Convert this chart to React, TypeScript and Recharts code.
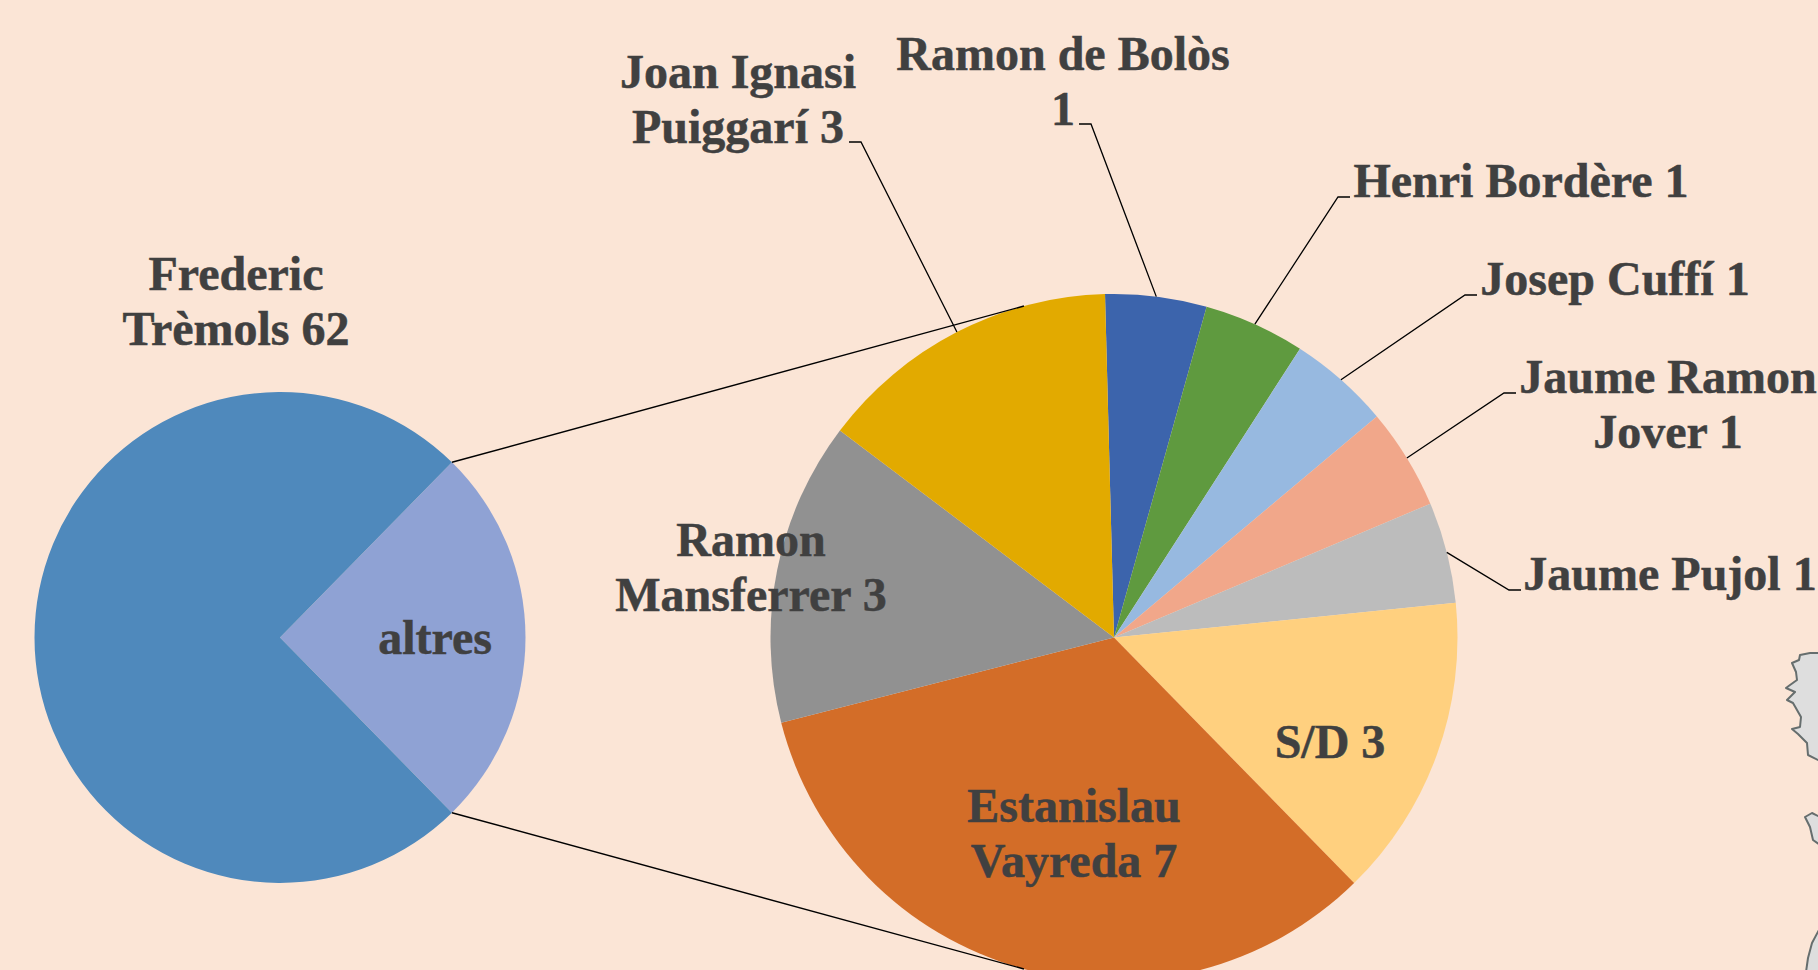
import { PieChart, Pie, Cell } from 'recharts';

const leftNames = ['altres', 'Frederic Trèmols'];
const leftValues = [21, 62];
const leftColors = ['#8FA2D4', '#4F89BC'];
const leftLabels = [['altres'], ['Frederic', 'Trèmols 62']];
const leftLabelPos = [
  { x: 435, y: 654 },
  { x: 236, y: 290 },
];

const rightNames = [
  'Ramon de Bolòs',
  'Henri Bordère',
  'Josep Cuffí',
  'Jaume Ramon Jover',
  'Jaume Pujol',
  'S/D',
  'Estanislau Vayreda',
  'Ramon Mansferrer',
  'Joan Ignasi Puiggarí',
];
const rightValues = [1, 1, 1, 1, 1, 3, 7, 3, 3];
const rightColors = [
  '#3C64AC',
  '#5F9A3F',
  '#97B9E0',
  '#F1A78A',
  '#BCBCBC',
  '#FFD07F',
  '#D36D28',
  '#919191',
  '#E2AA00',
];
const rightLabels = [
  ['Ramon de Bolòs', '1'],
  ['Henri Bordère 1'],
  ['Josep Cuffí 1'],
  ['Jaume Ramon', 'Jover 1'],
  ['Jaume Pujol 1'],
  ['S/D 3'],
  ['Estanislau', 'Vayreda 7'],
  ['Ramon', 'Mansferrer 3'],
  ['Joan Ignasi', 'Puiggarí 3'],
];
const rightLabelPos = [
  { x: 1063, y: 70 },
  { x: 1521, y: 197 },
  { x: 1615, y: 295 },
  { x: 1668, y: 393 },
  { x: 1670, y: 590 },
  { x: 1330, y: 758 },
  { x: 1074, y: 822 },
  { x: 751, y: 556 },
  { x: 738, y: 88 },
];
// leader lines: [end of the horizontal stub, y, elbow]. null = label sits inside the slice
const rightLeaders = [
  [1079, 124, 1091],
  [1350, 197, 1338],
  [1477, 295, 1465],
  [1516, 393, 1504],
  [1521, 590, 1509],
  null,
  null,
  null,
  [849, 142, 861],
];

const leftData = leftNames.map((name, i) => ({ name, value: leftValues[i] }));
const rightData = rightNames.map((name, i) => ({ name, value: rightValues[i] }));

const WIDTH = 1818;
const HEIGHT = 970;
const LEFT_CX = 280;
const LEFT_CY = 637.5;
const LEFT_R = 245.5;
const RIGHT_CX = 1114;
const RIGHT_CY = 637.5;
const RIGHT_R = 343.5;
const RAD = Math.PI / 180;
const LINE_HEIGHT = 54.5;

// altres is centred on the east side of the left pie
const leftStart = (leftValues[0] / (leftValues[0] + leftValues[1])) * 180;
const rightStart = 91.5;
// where the series lines touch the right pie
const seriesLineAngles = [105.2, 254.8];

const polar = (cx: number, cy: number, r: number, angle: number) => ({
  x: cx + r * Math.cos(angle * RAD),
  y: cy - r * Math.sin(angle * RAD),
});

function LabelText({ lines, x, y }: { lines: string[]; x: number; y: number }) {
  return (
    <text
      x={x}
      y={y}
      textAnchor="middle"
      fill="#404040"
      stroke="#404040"
      strokeWidth={0.5}
      fontFamily="'Liberation Serif', serif"
      fontWeight="bold"
      fontSize={48}
    >
      {lines.map((line, i) => (
        <tspan key={line} x={x} y={y + i * LINE_HEIGHT}>
          {line}
        </tspan>
      ))}
    </text>
  );
}

function renderLeftLabel(props: any) {
  const { index } = props;
  const pos = leftLabelPos[index];
  return (
    <g key={index}>
      {index === 0 &&
        [leftStart, -leftStart].map((angle, i) => {
          const from = polar(LEFT_CX, LEFT_CY, LEFT_R, angle);
          const to = polar(RIGHT_CX, RIGHT_CY, RIGHT_R, seriesLineAngles[i]);
          return (
            <line key={angle} x1={from.x} y1={from.y} x2={to.x} y2={to.y} stroke="#000" strokeWidth={1.4} />
          );
        })}
      <LabelText lines={leftLabels[index]} x={pos.x} y={pos.y} />
    </g>
  );
}

function renderRightLabel(props: any) {
  const { index, midAngle } = props;
  const pos = rightLabelPos[index];
  const leader = rightLeaders[index];
  const edge = polar(RIGHT_CX, RIGHT_CY, RIGHT_R, midAngle);
  return (
    <g key={index}>
      {leader && (
        <polyline
          points={`${edge.x},${edge.y} ${leader[2]},${leader[1]} ${leader[0]},${leader[1]}`}
          fill="none"
          stroke="#000"
          strokeWidth={1.3}
        />
      )}
      <LabelText lines={rightLabels[index]} x={pos.x} y={pos.y} />
    </g>
  );
}

export default function App() {
  return (
    <div
      style={{
        position: 'fixed',
        left: 0,
        top: 0,
        width: WIDTH,
        height: HEIGHT,
        overflow: 'hidden',
        background: '#FBE5D6',
      }}
    >
      {/* bit of a map cut off by the page edge */}
      <svg width={WIDTH} height={HEIGHT} style={{ position: 'absolute', left: 0, top: 0 }}>
        <g fill="#DEDEDE" stroke="#666E6E" strokeWidth={2} strokeLinejoin="round">
          <path d="M1820 653L1810 653L1800 655L1799 660L1792 663L1796 672L1797 680L1790 685L1786 688L1795 692L1787 700L1793 703L1801 717L1800 727L1792 729L1798 734L1807 743L1808 755L1820 761Z" />
          <path d="M1820 817L1812 813L1805 817L1810 827L1813 840L1820 845Z" />
          <path d="M1820 928L1812 943L1808 958L1806 972L1820 972Z" />
        </g>
      </svg>
      <div style={{ position: 'absolute', left: 0, top: 0 }}>
        <PieChart width={WIDTH} height={HEIGHT} margin={{ top: 0, right: 0, bottom: 0, left: 0 }}>
          <Pie
            data={leftData}
            dataKey="value"
            nameKey="name"
            cx={LEFT_CX}
            cy={LEFT_CY}
            outerRadius={LEFT_R}
            startAngle={leftStart}
            endAngle={leftStart - 360}
            stroke="none"
            label={renderLeftLabel}
            labelLine={false}
            isAnimationActive={false}
          >
            {leftData.map((d, i) => (
              <Cell key={d.name} fill={leftColors[i]} />
            ))}
          </Pie>
          <Pie
            data={rightData}
            dataKey="value"
            nameKey="name"
            cx={RIGHT_CX}
            cy={RIGHT_CY}
            outerRadius={RIGHT_R}
            startAngle={rightStart}
            endAngle={rightStart - 360}
            stroke="none"
            label={renderRightLabel}
            labelLine={false}
            isAnimationActive={false}
          >
            {rightData.map((d, i) => (
              <Cell key={d.name} fill={rightColors[i]} />
            ))}
          </Pie>
        </PieChart>
      </div>
    </div>
  );
}
